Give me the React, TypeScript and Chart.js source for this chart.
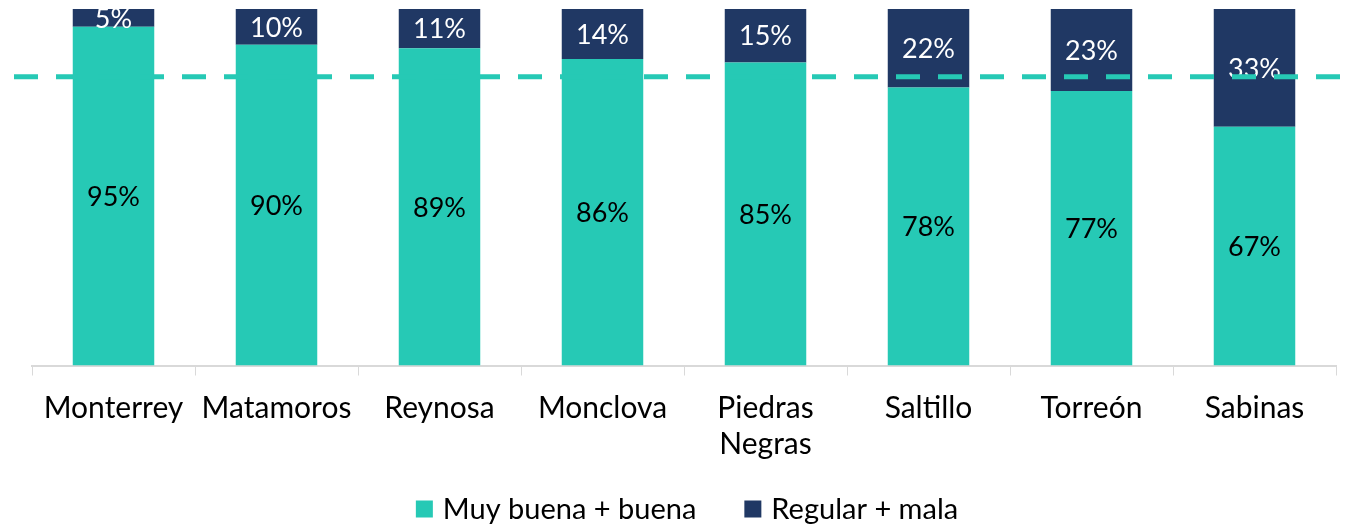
import React, { useEffect, useRef } from "react";
import { Chart, registerables } from "chart.js";

Chart.register(...registerables);

const categories: (string | string[])[] = [
  "Monterrey",
  "Matamoros",
  "Reynosa",
  "Monclova",
  ["Piedras", "Negras"],
  "Saltillo",
  "Torreón",
  "Sabinas",
];
const muyBuena = [95, 90, 89, 86, 85, 78, 77, 67];
const regularMala = [5, 10, 11, 14, 15, 22, 23, 33];
const referenceLine = 81;
const seriesNames = ["Muy buena + buena", "Regular + mala"];
const colors = ["#26C9B5", "#203864"];
const labelColors = ["#000000", "#FFFFFF"];

const FONT = "Lato, 'Open Sans', sans-serif";
const FS_LABEL = 27;
const FS_AXIS = 30;
const FS_LEGEND = 29;

const labelsPlugin = {
  id: "segLabels",
  afterDatasetsDraw(chart: any) {
    const ctx = chart.ctx;
    ctx.save();
    ctx.font = `${FS_LABEL}px ${FONT}`;
    ctx.textAlign = "center";
    ctx.textBaseline = "middle";
    chart.data.datasets.forEach((ds: any, di: number) => {
      const meta = chart.getDatasetMeta(di);
      meta.data.forEach((el: any, i: number) => {
        const { x, y, base } = el.getProps(["x", "y", "base"], true);
        ctx.fillStyle = labelColors[di];
        ctx.fillText(`${ds.data[i]}%`, x, (y + base) / 2 + 1);
      });
    });
    ctx.restore();
  },
};

const overlayPlugin = {
  id: "overlay",
  afterDraw(chart: any) {
    const ctx = chart.ctx;
    const yPix = chart.scales.y.getPixelForValue(referenceLine);
    ctx.save();
    ctx.strokeStyle = colors[0];
    ctx.lineWidth = 5;
    ctx.setLineDash([24, 18]);
    ctx.beginPath();
    ctx.moveTo(14, yPix);
    ctx.lineTo(chart.width, yPix);
    ctx.stroke();
    ctx.restore();

    // legend
    ctx.save();
    ctx.font = `${FS_LEGEND}px ${FONT}`;
    ctx.textBaseline = "middle";
    ctx.textAlign = "left";
    const box = 17;
    const gapBoxText = 10;
    const gapItems = 48;
    const widths = seriesNames.map((n) => box + gapBoxText + ctx.measureText(n).width);
    const total = widths.reduce((a, b) => a + b, 0) + gapItems * (widths.length - 1);
    let x = 687 - total / 2;
    const cy = 509;
    seriesNames.forEach((n, i) => {
      ctx.fillStyle = colors[i];
      ctx.fillRect(x, cy - box / 2, box, box);
      ctx.fillStyle = "#000";
      ctx.fillText(n, x + box + gapBoxText, cy + 1);
      x += widths[i] + gapItems;
    });
    ctx.restore();
  },
};

export default function App() {
  const ref = useRef<HTMLCanvasElement>(null);
  useEffect(() => {
    if (!ref.current) return;
    const chart = new Chart(ref.current, {
      type: "bar",
      data: {
        labels: categories,
        datasets: [
          {
            label: seriesNames[0],
            data: muyBuena,
            backgroundColor: colors[0],
            barPercentage: 0.5,
            categoryPercentage: 1,
          },
          {
            label: seriesNames[1],
            data: regularMala,
            backgroundColor: colors[1],
            barPercentage: 0.5,
            categoryPercentage: 1,
          },
        ],
      },
      options: {
        responsive: false,
        animation: false,
        layout: { padding: { left: 32, right: 10, top: 9, bottom: 51.5 } },
        plugins: {
          legend: { display: false },
          tooltip: { enabled: false },
        },
        scales: {
          x: {
            stacked: true,
            afterFit: (scale: any) => {
              scale.height = 110;
            },
            grid: {
              offset: true,
              drawOnChartArea: false,
              drawTicks: true,
              tickLength: 10,
              color: "#d9d9d9",
              lineWidth: 1,
            },
            border: { display: true, color: "#d9d9d9", width: 2 },
            ticks: {
              color: "#000",
              font: { family: FONT, size: FS_AXIS, lineHeight: 1.2 },
              padding: 15,
              maxRotation: 0,
              autoSkip: false,
            },
          },
          y: {
            stacked: true,
            display: false,
            min: 0,
            max: 100,
          },
        },
      },
      plugins: [labelsPlugin, overlayPlugin],
    });
    return () => chart.destroy();
  }, []);
  return (
    <div style={{ position: "absolute", left: 0, top: 0, width: 1346, height: 527, background: "#fff" }}>
      <canvas ref={ref} width={1346} height={527} />
    </div>
  );
}
